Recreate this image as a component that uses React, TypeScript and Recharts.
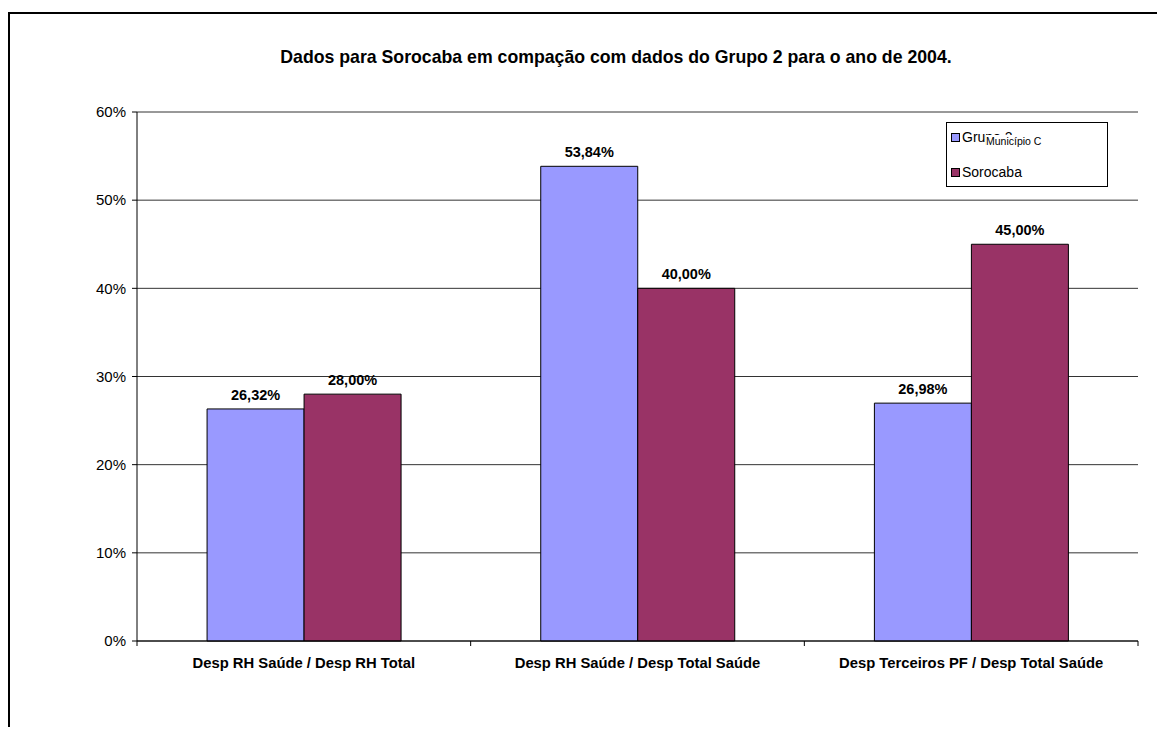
import React from 'react';
import { BarChart, Bar, XAxis, YAxis, CartesianGrid, Legend, LabelList } from 'recharts';

const categories = [
    'Desp RH Saúde / Desp RH Total',
    'Desp RH Saúde / Desp Total Saúde',
    'Desp Terceiros PF / Desp Total Saúde',
];
const grupo2 = [0.2632, 0.5384, 0.2698];
const sorocaba = [0.28, 0.4, 0.45];
const yTicks = [0, 0.1, 0.2, 0.3, 0.4, 0.5, 0.6];

const FONT = '"Liberation Sans", Arial, sans-serif';

const data = categories.map((name, i) => ({ name, grupo2: grupo2[i], sorocaba: sorocaba[i] }));

const pct = (v: number) => `${Math.round(v * 100)}%`;
const pct2 = (v: any) => `${(Number(v) * 100).toFixed(2).replace('.', ',')}%`;

// category label + tick marks on the category edges (Excel style)
const CategoryTick = (props: any) => {
    const { x, y, payload, index } = props;
    const half = payload?.offset ?? 1001 / categories.length / 2;
    const last = index === categories.length - 1;
    return (
        <g>
            <line x1={x - half} x2={x - half} y1={y - 5} y2={y} stroke="#000" />
            {last && <line x1={x + half} x2={x + half} y1={y - 5} y2={y} stroke="#000" />}
            <text x={x} y={y} dy={22} textAnchor="middle" fontSize={14.8} fontWeight="bold" fill="#000" fontFamily={FONT}>
                {payload.value}
            </text>
        </g>
    );
};

const LegendBox = (props: any) => {
    const { payload } = props;
    return (
        <div style={{ width: 162, height: 65, border: '1px solid #000', boxSizing: 'border-box', background: '#fff', fontFamily: FONT, fontSize: 14, position: 'relative', color: '#000' }}>
            {(payload || []).map((p: any, i: number) => (
                <div key={p.value} style={{ position: 'absolute', left: 4, top: i === 0 ? 6 : 41, display: 'flex', alignItems: 'center', lineHeight: '17px' }}>
                    <span style={{ width: 7, height: 7, background: p.color, border: '1px solid #000', marginRight: 2 }} />
                    <span style={{ position: 'relative' }}>
                        {p.value}
                        {i === 0 && (
                            <span style={{ position: 'absolute', left: 24, top: 6, fontSize: 10.5, background: '#fff', whiteSpace: 'nowrap', lineHeight: '13px' }}>
                                Município C
                            </span>
                        )}
                    </span>
                </div>
            ))}
        </div>
    );
};

export default function App() {
    return (
        <div style={{ marginTop: 4, width: 1157, height: 715, boxSizing: 'border-box', borderTop: '2px solid #000', borderLeft: '2px solid #000', position: 'relative', background: '#fff' }}>
            <div style={{ position: 'absolute', left: 0, width: 1212, top: 33, textAlign: 'center', fontFamily: FONT, fontSize: 17.7, fontWeight: 'bold', color: '#000', lineHeight: '20px' }}>
                Dados para Sorocaba em compação com dados do Grupo 2 para o ano de 2004.
            </div>
            <BarChart
                width={1155}
                height={713}
                data={data}
                margin={{ top: 98, right: 27, left: 67, bottom: 56 }}
                barCategoryGap="21%"
                barGap={0}
            >
                <CartesianGrid vertical={false} stroke="#333" />
                <XAxis
                    dataKey="name"
                    height={30}
                    axisLine={{ stroke: '#000' }}
                    tickLine={false}
                    tickSize={5}
                    tickMargin={0}
                    interval={0}
                    tick={<CategoryTick />}
                />
                <YAxis
                    width={60}
                    domain={[0, 0.6]}
                    ticks={yTicks}
                    tickFormatter={pct}
                    axisLine={{ stroke: '#000' }}
                    tickLine={{ stroke: '#000' }}
                    tickSize={5}
                    tickMargin={6}
                    tick={{ fill: '#000', fontSize: 15, fontFamily: FONT }}
                />
                <Legend
                    layout="vertical"
                    align="center"
                    verticalAlign="middle"
                    wrapperStyle={{ top: 108, left: 936, width: 162, height: 65 }}
                    content={<LegendBox />}
                />
                <Bar dataKey="grupo2" name="Grupo 2" fill="#9999FF" stroke="#000" strokeWidth={1} isAnimationActive={false}>
                    <LabelList dataKey="grupo2" position="top" offset={9} formatter={pct2} style={{ fontSize: 14.5, fontWeight: 'bold', fill: '#000', fontFamily: FONT }} />
                </Bar>
                <Bar dataKey="sorocaba" name="Sorocaba" fill="#993366" stroke="#000" strokeWidth={1} isAnimationActive={false}>
                    <LabelList dataKey="sorocaba" position="top" offset={9} formatter={pct2} style={{ fontSize: 14.5, fontWeight: 'bold', fill: '#000', fontFamily: FONT }} />
                </Bar>
            </BarChart>
        </div>
    );
}
